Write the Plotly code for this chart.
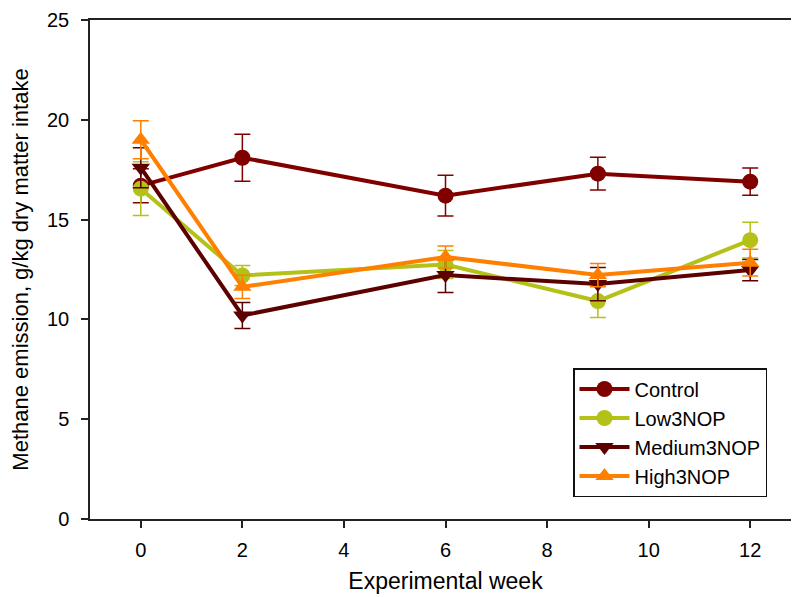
import plotly.graph_objects as go

weeks = [0, 2, 6, 9, 12]
series_names = ["Control", "Low3NOP", "Medium3NOP", "High3NOP"]
control = [16.7, 18.1, 16.2, 17.3, 16.9]
control_err = [0.85, 1.18, 1.02, 0.82, 0.68]
low = [16.55, 12.2, 12.75, 10.92, 13.97]
low_err = [1.35, 0.5, 0.7, 0.82, 0.9]
medium = [17.6, 10.2, 12.22, 11.77, 12.47]
medium_err = [1.0, 0.65, 0.87, 0.83, 0.53]
high = [19.0, 11.63, 13.13, 12.22, 12.84]
high_err = [0.95, 0.58, 0.55, 0.58, 0.67]

x_ticks = [0, 2, 4, 6, 8, 10, 12]
y_ticks = [0, 5, 10, 15, 20, 25]

values = [control, low, medium, high]
errors = [control_err, low_err, medium_err, high_err]
colors = ["#800000", "#B4C118", "#5C0000", "#FF8000"]
symbols = ["circle", "circle", "triangle-down", "triangle-up"]

FONT = "Liberation Sans, Arial, sans-serif"

fig = go.Figure()
for name, v, e, c, s in zip(series_names, values, errors, colors, symbols):
    fig.add_trace(go.Scatter(
        x=weeks, y=v, name=name, mode="lines+markers",
        line=dict(color=c, width=4),
        marker=dict(color=c, size=16, symbol=s),
        error_y=dict(type="data", array=e, visible=True, color=c, thickness=1.5, width=8),
    ))

# plot area spans pixels x 82..793, y 12..511
def paper_x(pix):
    return (pix - 82) / 711
def paper_y(pix):
    return (511 - pix) / 499

fig.update_layout(
    template="none",
    width=799, height=597,
    margin=dict(l=82, r=6, t=12, b=86),
    paper_bgcolor="white", plot_bgcolor="white",
    font=dict(family=FONT, size=20, color="black"),
    showlegend=True,
    legend=dict(
        x=paper_x(565), y=paper_y(360), xanchor="left", yanchor="top",
        bordercolor="#111", borderwidth=1.5, bgcolor="white",
        font=dict(family=FONT, size=20, color="black"),
        tracegroupgap=0, itemwidth=50,
    ),
)
fig.update_xaxes(
    automargin=False,
    range=[-1, 13], tickvals=x_ticks, ticktext=[str(t) for t in x_ticks],
    showgrid=False, zeroline=False,
    showline=True, linecolor="#222", linewidth=1.5, mirror=True,
    ticks="outside", ticklen=7, tickwidth=1.5, tickcolor="#222",
    tickfont=dict(size=20), ticklabelstandoff=5,
    title=dict(text="Experimental week", font=dict(size=23), standoff=13),
)
fig.update_yaxes(
    automargin=False,
    range=[0, 25], tickvals=y_ticks, ticktext=[str(t) for t in y_ticks],
    showgrid=False, zeroline=False,
    showline=True, linecolor="#222", linewidth=1.5, mirror=True,
    ticks="outside", ticklen=7, tickwidth=1.5, tickcolor="#222",
    tickfont=dict(size=20), ticklabelstandoff=8,
    title=dict(text="Methane emission, g/kg dry matter intake", font=dict(size=22), standoff=15),
)

fig.write_html("out.html")
